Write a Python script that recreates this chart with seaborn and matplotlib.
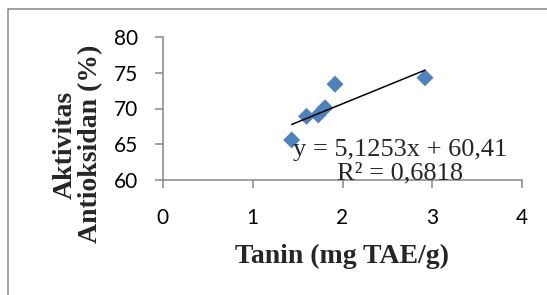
import numpy as np
import pandas as pd
import seaborn as sns
import matplotlib.pyplot as plt
from matplotlib.lines import Line2D

# data
tanin = [1.435, 1.60, 1.73, 1.805, 1.917, 2.918]
aktivitas = [65.6, 68.9, 69.1, 70.1, 73.4, 74.3]
slope, intercept = 5.1253, 60.41
x_ticks = [0, 1, 2, 3, 4]
y_ticks = [60, 65, 70, 75, 80]
eq_text = "y = 5,1253x + 60,41\nR² = 0,6818"
x_label = "Tanin (mg TAE/g)"
y_label_lines = ["Aktivitas", "Antioksidan (%)"]

df = pd.DataFrame({"tanin": tanin, "aktivitas": aktivitas})

# trendline over the data range
trend_x = np.array([min(tanin), max(tanin)])
trend_y = slope * trend_x + intercept

sns.set_style("white")
plt.rcParams.update({
    "font.family": "Lato",
    "font.size": 15,
})

W, H = 547, 295
grey = "#868686"
serif = "Liberation Serif"

fig = plt.figure(figsize=(W / 100, H / 100), dpi=100)
ax = fig.add_axes([162.7 / W, 1 - 180 / H, (522.3 - 162.7) / W, (180 - 37) / H])

sns.scatterplot(data=df, x="tanin", y="aktivitas", marker="D", s=75,
                color="#4F81BD", edgecolor="none", ax=ax, zorder=3)
sns.lineplot(x=trend_x, y=trend_y, color="black", linewidth=1.1, ax=ax, zorder=4)

ax.set_xlim(0, 4)
ax.set_ylim(60, 80)
ax.set_xticks(x_ticks)
ax.set_yticks(y_ticks)
ax.set_xlabel("")
ax.set_ylabel("")

for side in ["top", "right"]:
    ax.spines[side].set_visible(False)
for side in ["left", "bottom"]:
    ax.spines[side].set_color(grey)
    ax.spines[side].set_linewidth(1.1)

ax.tick_params(axis="both", direction="out", length=5.8, width=1.1, color=grey,
               labelsize=15, labelcolor="black", bottom=True, left=True)
ax.tick_params(axis="y", pad=12)
ax.tick_params(axis="x", pad=14)

# labels and regression text
fig.text(342 / W, 1 - 256 / H, x_label, ha="center", va="center",
         fontsize=20, fontweight="bold", family=serif)
# y label: two rotated lines, each centred on its own
for label, cx, cy in zip(y_label_lines, [65, 91], [145, 144]):
    fig.text(cx / W, 1 - cy / H, label, ha="center", va="center", rotation=90,
             fontsize=20, fontweight="bold", family=serif)
fig.text(400 / W, 1 - 162 / H, eq_text, ha="center", va="center",
         multialignment="center", fontsize=19, family=serif, linespacing=1.1, zorder=5)

# outer chart border (left and top edges visible)
fig.add_artist(Line2D([8 / W, 8 / W, 1.0], [0, 1 - 9 / H, 1 - 9 / H],
                      transform=fig.transFigure, color=grey, linewidth=1.1))

fig.savefig("out.png", dpi=100)
